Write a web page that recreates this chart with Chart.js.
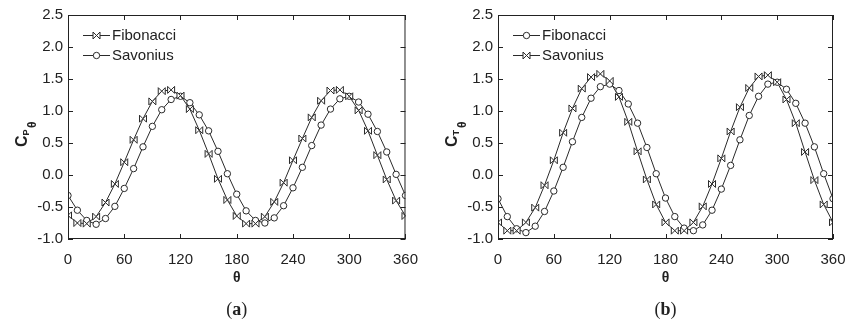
<!DOCTYPE html>
<html>
<head>
<meta charset="utf-8">
<script src="https://cdn.jsdelivr.net/npm/chart.js@4.4.1/dist/chart.umd.min.js"></script>
<style>
  body { margin: 0; background: #fff; }
  canvas { position: absolute; top: 0; }
</style>
</head>
<body>
<canvas id="chartA" width="430" height="322" style="left:0"></canvas>
<canvas id="chartB" width="430" height="322" style="left:430px"></canvas>
<script>
// angulo theta (grados)
const theta = [0, 10, 20, 30, 40, 50, 60, 70, 80, 90, 100, 110, 120, 130, 140, 150, 160, 170, 180,
               190, 200, 210, 220, 230, 240, 250, 260, 270, 280, 290, 300, 310, 320, 330, 340, 350, 360];

// (a) coeficiente de potencia
const cpFibonacci = [-0.63, -0.75, -0.76, -0.65, -0.43, -0.14, 0.20, 0.55, 0.88, 1.15, 1.31, 1.33, 1.24,
                     1.03, 0.70, 0.33, -0.06, -0.39, -0.64, -0.76, -0.76, -0.65, -0.42, -0.12, 0.23,
                     0.57, 0.90, 1.16, 1.32, 1.33, 1.23, 1.01, 0.69, 0.31, -0.07, -0.40, -0.64];
const cpSavonius = [-0.32, -0.55, -0.71, -0.77, -0.68, -0.49, -0.21, 0.10, 0.44, 0.76, 1.02, 1.18, 1.23,
                    1.13, 0.94, 0.69, 0.37, 0.02, -0.30, -0.56, -0.71, -0.75, -0.67, -0.48, -0.20,
                    0.12, 0.46, 0.78, 1.03, 1.19, 1.23, 1.14, 0.95, 0.68, 0.36, 0.01, -0.32];

// (b) coeficiente de par
const ctFibonacci = [-0.37, -0.65, -0.84, -0.90, -0.80, -0.57, -0.25, 0.12, 0.52, 0.90, 1.20, 1.38, 1.42,
                     1.32, 1.11, 0.81, 0.43, 0.02, -0.36, -0.65, -0.83, -0.87, -0.78, -0.55, -0.22,
                     0.15, 0.55, 0.93, 1.23, 1.42, 1.45, 1.34, 1.12, 0.81, 0.44, 0.02, -0.37];
const ctSavonius = [-0.74, -0.87, -0.87, -0.74, -0.51, -0.16, 0.23, 0.66, 1.04, 1.35, 1.53, 1.58, 1.47,
                    1.22, 0.83, 0.37, -0.07, -0.46, -0.74, -0.87, -0.87, -0.74, -0.49, -0.14, 0.26,
                    0.68, 1.06, 1.36, 1.54, 1.56, 1.45, 1.18, 0.81, 0.36, -0.08, -0.46, -0.74];

const xTicks = [0, 60, 120, 180, 240, 300, 360];
const yTicks = [-1.0, -0.5, 0.0, 0.5, 1.0, 1.5, 2.0, 2.5];

const FONT = "'Liberation Sans', Arial, sans-serif";
const INK = '#222';
const LINE = '#2a2a2a';

// dibuja un marcador tipo "bowtie" centrado en (x, y)
function drawBowtie(ctx, x, y, h) {
    ctx.beginPath();
    ctx.moveTo(x - h, y - h); ctx.lineTo(x, y); ctx.lineTo(x - h, y + h); ctx.closePath();
    ctx.moveTo(x + h, y - h); ctx.lineTo(x, y); ctx.lineTo(x + h, y + h); ctx.closePath();
    ctx.fillStyle = '#fff';
    ctx.fill();
    ctx.stroke();
}

function series(label, values, marker) {
    return {
        label: label,
        marker: marker,
        data: theta.map((t, i) => ({ x: t, y: values[i] })),
        borderColor: LINE,
        borderWidth: 1,
        pointStyle: 'circle',
        pointRadius: marker === 'circle' ? 3.2 : 0,
        pointBackgroundColor: '#fff',
        pointBorderColor: LINE,
        pointBorderWidth: 1,
        tension: 0,
        clip: 0
    };
}

// marcadores bowtie sobre las posiciones calculadas por Chart.js
const bowtiePlugin = {
    id: 'bowties',
    afterDatasetsDraw(chart) {
        const ctx = chart.ctx;
        const a = chart.chartArea;
        ctx.save();
        ctx.beginPath();
        ctx.rect(a.left, a.top, a.right - a.left, a.bottom - a.top);
        ctx.clip();
        ctx.strokeStyle = LINE;
        ctx.lineWidth = 1;
        chart.data.datasets.forEach((ds, i) => {
            if (ds.marker !== 'bowtie') return;
            chart.getDatasetMeta(i).data.forEach(pt => drawBowtie(ctx, pt.x, pt.y, 3.5));
        });
        ctx.restore();
    }
};

// marco, ticks interiores, titulos y leyenda
const decorPlugin = {
    id: 'decor',
    afterDraw(chart) {
        const ctx = chart.ctx;
        const a = chart.chartArea;
        const xs = chart.scales.x, ys = chart.scales.y;
        const o = chart.options.plugins.decor;
        ctx.save();
        ctx.strokeStyle = INK;
        ctx.lineWidth = 1;
        ctx.strokeRect(a.left + 0.5, a.top + 0.5, a.right - a.left - 1, a.bottom - a.top - 1);
        ctx.beginPath();
        xTicks.forEach(v => {
            const px = Math.round(xs.getPixelForValue(v)) + 0.5;
            ctx.moveTo(px, a.bottom); ctx.lineTo(px, a.bottom - 5);
            ctx.moveTo(px, a.top); ctx.lineTo(px, a.top + 5);
        });
        yTicks.forEach(v => {
            const py = Math.round(ys.getPixelForValue(v)) + 0.5;
            ctx.moveTo(a.left, py); ctx.lineTo(a.left + 5, py);
            ctx.moveTo(a.right, py); ctx.lineTo(a.right - 5, py);
        });
        ctx.stroke();

        // leyenda
        chart.data.datasets.forEach((ds, i) => {
            const y = 35.5 + i * 20;
            ctx.strokeStyle = LINE;
            ctx.beginPath();
            ctx.moveTo(83, y); ctx.lineTo(110, y);
            ctx.stroke();
            if (ds.marker === 'circle') {
                ctx.beginPath();
                ctx.arc(96.5, y, 3.2, 0, Math.PI * 2);
                ctx.fillStyle = '#fff'; ctx.fill(); ctx.stroke();
            } else {
                drawBowtie(ctx, 96.5, y, 3.5);
            }
            ctx.fillStyle = INK;
            ctx.font = '15px ' + FONT;
            ctx.textBaseline = 'middle';
            ctx.textAlign = 'left';
            ctx.fillText(ds.label, 112, y + 0.5);
        });

        // titulo eje x
        ctx.fillStyle = INK;
        ctx.font = 'bold 14px ' + FONT;
        ctx.textAlign = 'center';
        ctx.textBaseline = 'alphabetic';
        ctx.fillText('θ', (a.left + a.right) / 2, 282);

        // titulo eje y con subindices
        ctx.save();
        ctx.translate(27, 147);
        ctx.rotate(-Math.PI / 2);
        ctx.textAlign = 'left';
        ctx.font = 'bold 16px ' + FONT;
        ctx.fillText('C', 0, 0);
        ctx.font = 'bold 9px ' + FONT;
        ctx.fillText(o.sub, 11.5, 1.5);
        ctx.font = 'bold 12px ' + FONT;
        ctx.fillText('θ', 19, 9);
        ctx.restore();

        // rotulo del panel
        ctx.font = '18px "Liberation Serif", serif';
        const w1 = ctx.measureText('(').width;
        ctx.font = 'bold 18px "Liberation Serif", serif';
        const w2 = ctx.measureText(o.caption).width;
        ctx.font = '18px "Liberation Serif", serif';
        const w3 = ctx.measureText(')').width;
        let cx = (a.left + a.right) / 2 - (w1 + w2 + w3) / 2;
        ctx.textAlign = 'left';
        ctx.fillText('(', cx, 315);
        ctx.font = 'bold 18px "Liberation Serif", serif';
        ctx.fillText(o.caption, cx + w1, 315);
        ctx.font = '18px "Liberation Serif", serif';
        ctx.fillText(')', cx + w1 + w2, 315);
        ctx.restore();
    }
};

function makeChart(id, datasets, sub, caption, rightPad) {
    return new Chart(document.getElementById(id), {
        type: 'line',
        data: { datasets: datasets },
        plugins: [bowtiePlugin, decorPlugin],
        options: {
            responsive: false,
            animation: false,
            layout: { padding: { left: 0, top: 15, right: rightPad, bottom: 33 } },
            plugins: {
                legend: { display: false },
                tooltip: { enabled: false },
                decor: { sub: sub, caption: caption }
            },
            scales: {
                x: {
                    type: 'linear', min: 0, max: 360,
                    grid: { display: false, drawTicks: false },
                    border: { display: false },
                    afterBuildTicks: s => { s.ticks = xTicks.map(v => ({ value: v })); },
                    afterFit: s => { s.height = 50; },
                    ticks: { color: INK, font: { family: FONT, size: 15 }, padding: 12, maxRotation: 0 }
                },
                y: {
                    min: -1, max: 2.5,
                    grid: { display: false, drawTicks: false },
                    border: { display: false },
                    afterBuildTicks: s => { s.ticks = yTicks.map(v => ({ value: v })); },
                    afterFit: s => { s.width = 68; },
                    ticks: {
                        color: INK, font: { family: FONT, size: 15 }, padding: 5,
                        callback: v => Number(v).toFixed(1)
                    }
                }
            }
        }
    });
}

makeChart('chartA', [series('Fibonacci', cpFibonacci, 'bowtie'), series('Savonius', cpSavonius, 'circle')], 'P', 'a', 21);
makeChart('chartB', [series('Fibonacci', ctFibonacci, 'circle'), series('Savonius', ctSavonius, 'bowtie')], 'T', 'b', 27);
</script>
</body>
</html>
